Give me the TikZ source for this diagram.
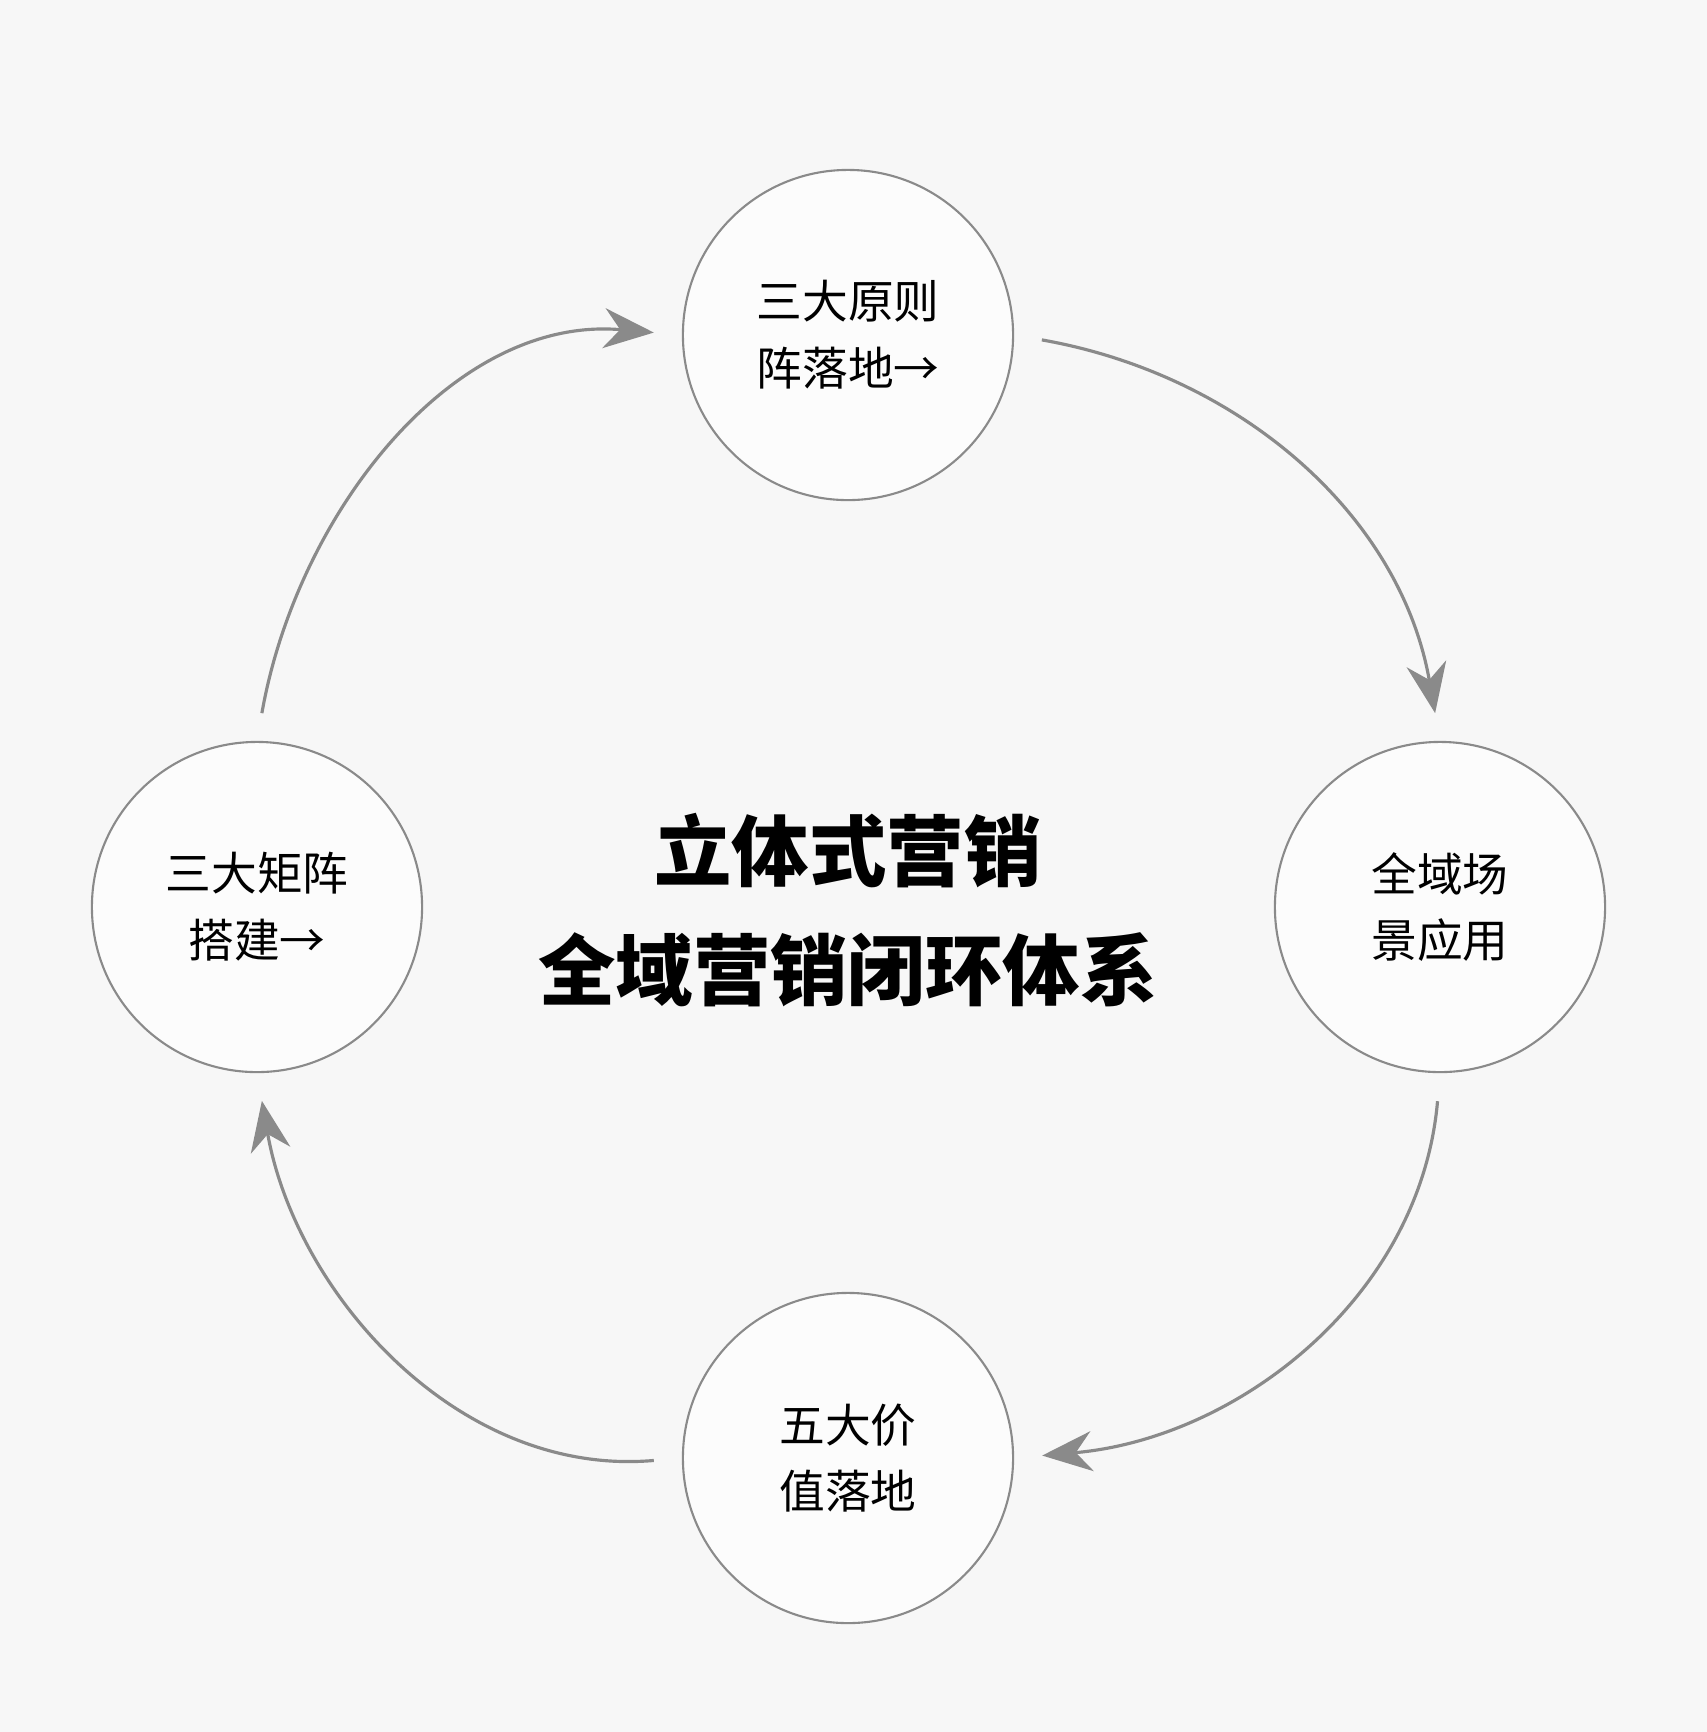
\documentclass[tikz,border=0pt]{standalone}
\usepackage{fontspec}
\setmainfont{Noto Sans CJK SC}
\usetikzlibrary{arrows.meta,backgrounds}
\definecolor{bgcolor}{HTML}{F7F7F7}
\definecolor{linecolor}{HTML}{8A8A8A}
\newcommand{\rad}{3.3cm}
\begin{document}
\begin{tikzpicture}[x=0.01cm,y=-0.01cm]
\useasboundingbox (0,0) rectangle (1707,1732);
\fill[bgcolor] (0,0) rectangle (1707,1732);
\tikzset{stage/.style={circle,draw=linecolor,line width=0.6pt,fill=white!60!bgcolor,minimum size=\rad,align=center,font=\fontsize{13}{19}\selectfont},
flow/.style={draw=linecolor,line width=0.9pt,-{Stealth[length=5mm,width=4mm]},shorten >=8pt,shorten <=8pt}}
\node[stage] (1) at (848,335) {三大原则\\阵落地→};
\node[stage] (2) at (1440,907) {全域场\\景应用};
\node[stage] (3) at (848,1458) {五大价\\值落地};
\node[stage] (4) at (257,907) {三大矩阵\\搭建→};
\node[font=\fontsize{22}{34}\selectfont\bfseries,align=center] (0) at (848,910) {立体式营销\\全域营销闭环体系};
%arcs
\draw[flow] (1.east) to[out=-10,in=100] (2.north);
\draw[flow] (2.south) to[out=-95,in=5] (3.east);
\draw[flow] (3.west) to[out=185,in=-80] (4.south);
\draw[flow] (4.north) to[out=80,in=175] (1.west);
\end{tikzpicture}
\end{document}
